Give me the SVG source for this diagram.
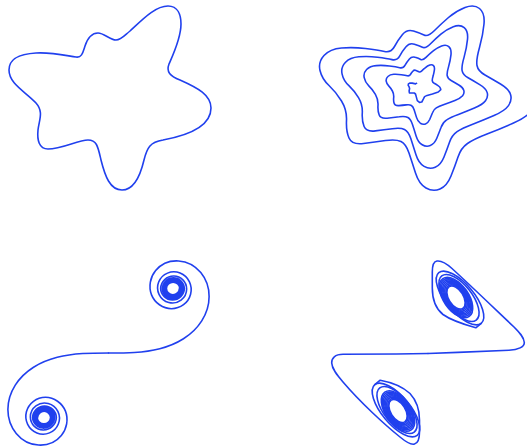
<svg xmlns="http://www.w3.org/2000/svg" xmlns:xlink="http://www.w3.org/1999/xlink" width="527" height="448" viewBox="0 0 527 448">
<style>
.c{fill:none;stroke:#2040ee;stroke-width:1.6;stroke-linejoin:round;stroke-linecap:round}
.m{fill:none;stroke:#2040ee;stroke-width:0.0124;stroke-linejoin:round;stroke-linecap:round}
</style>
<defs>
<path id="cornuHalf" class="m" d="M 0,0 C 0.0667,0 0.1333,0 0.1999,0.0042 C 0.2665,0.0084 0.3329,0.0168 0.3975,0.0334 C 0.4621,0.05 0.5248,0.0748 0.5811,0.1105 C 0.6374,0.1462 0.6871,0.193 0.7228,0.2493 C 0.7585,0.3056 0.7799,0.3716 0.7799,0.4383 C 0.7799,0.505 0.7579,0.572 0.7154,0.6234 C 0.6729,0.6748 0.6097,0.7093 0.5431,0.7135 C 0.4765,0.7177 0.408,0.6903 0.3655,0.6389 C 0.323,0.5875 0.3091,0.5129 0.3336,0.4509 C 0.3581,0.3889 0.4215,0.3434 0.4882,0.3434 C 0.5215,0.3434 0.555,0.3543 0.5816,0.3743 C 0.6082,0.3943 0.628,0.4234 0.6363,0.4557 C 0.6446,0.488 0.6413,0.5233 0.6266,0.5532 C 0.6119,0.5831 0.586,0.6074 0.555,0.6197 C 0.524,0.632 0.4882,0.632 0.4574,0.6192 C 0.4266,0.6064 0.4012,0.581 0.3889,0.55 C 0.3766,0.519 0.3778,0.4828 0.3925,0.4529 C 0.4072,0.423 0.4352,0.3998 0.4675,0.3915 C 0.4998,0.3832 0.5358,0.3901 0.5624,0.4101 C 0.589,0.4301 0.6057,0.463 0.6057,0.4963 A 0.1009 0.1009 0 0 1 0.404 0.5 A 0.0922 0.0922 0 0 1 0.5883 0.5 A 0.0853 0.0853 0 0 1 0.4178 0.5 A 0.0797 0.0797 0 0 1 0.5772 0.5 A 0.0751 0.0751 0 0 1 0.427 0.5 A 0.0713 0.0713 0 0 1 0.5695 0.5 A 0.068 0.068 0 0 1 0.4336 0.5 A 0.0651 0.0651 0 0 1 0.5637 0.5 A 0.0625 0.0625 0 0 1 0.4387 0.5 A 0.0602 0.0602 0 0 1 0.5591 0.5 A 0.0582 0.0582 0 0 1 0.4428 0.5 A 0.0563 0.0563 0 0 1 0.5554 0.5 A 0.0546 0.0546 0 0 1 0.4462 0.5 A 0.0531 0.0531 0 0 1 0.5523 0.5 A 0.0517 0.0517 0 0 1 0.449 0.5 A 0.0504 0.0504 0 0 1 0.5497 0.5"/>
</defs>
<rect width="527" height="448" fill="#ffffff"/>
<g id="star">
<path class="c" d="M 9,70 C 9,58 20,54 36,53 C 52,52 68,56 76,57 C 82,58 83,52 85,46 C 88,37 92,33 98,33 C 104,33 110,40 116,40 C 121,40 124,36 130,31 C 142,20 155,6 168,6 C 178,6 181,15 181,24 C 181,38 173,55 169,64 C 166,72 170,76 180,80 C 198,88 211,95 211,108 C 211,126 190,135 163,140 C 150,142 147,148 144,160 C 140,177 134,190 122,190 C 110,190 105,176 101,160 C 98,147 97,140 88,140 C 78,140 62,149 48,149 C 39,149 37,140 38,130 C 39,120 44,112 36,103 C 26,92 9,84 9,70 Z"/>
</g>
<g id="star-spiral">
<path class="c" d="M 536,104 L 531.5,110.5 Q 527,117 513.5,123 Q 500,129 487,134 Q 474,139 467.5,143.5 Q 461,148 458,157 Q 455,166 451,176 Q 447,186 440,189 Q 433,192 426,188 Q 419,184 415.5,173 Q 412,162 409,153 Q 406,144 401,141.5 Q 396,139 385.5,140.5 Q 375,142 363.5,143.5 Q 352,145 349,138 Q 346,131 346.5,120.5 Q 347,110 341.5,101 Q 336,92 329,85.5 Q 322,79 320,70.5 Q 318,62 324,55.5 Q 330,49 341.5,48 Q 353,47 365.5,48.5 Q 378,50 384.5,51.5 Q 391,53 394.5,46.5 Q 398,40 402.5,34.5 Q 407,29 413.5,31 Q 420,33 424,35 Q 428,37 434.5,30.5 Q 441,24 448.5,17.5 Q 456,11 465,7.5 Q 474,4 479.5,8.5 Q 485,13 484,24 Q 483,35 479.5,47.5 Q 476,60 477,65.5 Q 478,71 485,75 Q 492,79 500.5,84 Q 509,89 510.6,94.7 Q 512.2,100.4 508.5,105.6 Q 504.8,110.8 494,115.5 Q 483.1,120.2 472.7,124.2 Q 462.3,128.1 457.1,131.7 Q 451.9,135.2 449.5,142.3 Q 447.1,149.3 443.9,157.2 Q 440.7,165 435.2,167.3 Q 429.6,169.6 424.1,166.4 Q 418.6,163.2 415.9,154.5 Q 413.1,145.7 410.8,138.6 Q 408.4,131.5 404.5,129.5 Q 400.6,127.5 392.4,128.7 Q 384.2,129.8 375.3,130.9 Q 366.4,132 364.1,126.5 Q 361.8,121 362.3,112.8 Q 362.7,104.6 358.5,97.7 Q 354.2,90.7 348.9,85.7 Q 343.5,80.6 342.1,74.1 Q 340.6,67.5 345.3,62.5 Q 350,57.5 358.9,56.8 Q 367.8,56 377.5,57.2 Q 387.1,58.4 392.1,59.6 Q 397.1,60.8 399.8,55.9 Q 402.5,50.9 406,46.8 Q 409.4,42.6 414.4,44.2 Q 419.3,45.7 422.4,47.3 Q 425.4,48.8 430.3,44 Q 435.2,39.1 440.9,34.2 Q 446.5,29.3 453.3,26.7 Q 460,24.1 464.2,27.6 Q 468.3,31 467.5,39.3 Q 466.7,47.6 464.1,57.1 Q 461.4,66.5 462.1,70.6 Q 462.8,74.7 468.1,77.8 Q 473.3,80.8 479.7,84.6 Q 486,88.3 487.2,92.6 Q 488.4,96.8 485.5,100.7 Q 482.6,104.5 474.4,108 Q 466.2,111.5 458.4,114.4 Q 450.5,117.2 446.7,119.8 Q 442.8,122.3 441,127.5 Q 439.1,132.6 436.8,138.3 Q 434.4,144 430.3,145.6 Q 426.2,147.2 422.2,144.8 Q 418.1,142.3 416.1,135.9 Q 414.1,129.5 412.4,124.3 Q 410.7,119 407.9,117.5 Q 405.1,116 399.3,116.8 Q 393.4,117.5 387.1,118.2 Q 380.7,118.9 379.2,115 Q 377.6,111 378,105.2 Q 378.3,99.3 375.4,94.3 Q 372.5,89.3 368.8,85.8 Q 365.1,82.2 364.2,77.6 Q 363.2,73 366.6,69.5 Q 370,66 376.3,65.6 Q 382.6,65.1 389.4,66 Q 396.2,66.8 399.7,67.7 Q 403.2,68.5 405.1,65.1 Q 407,61.7 409.4,58.9 Q 411.8,56.1 415.2,57.3 Q 418.6,58.4 420.7,59.5 Q 422.7,60.6 426,57.4 Q 429.3,54.1 433.2,50.9 Q 437,47.6 441.6,45.9 Q 446.1,44.2 448.8,46.6 Q 451.5,49 451,54.6 Q 450.4,60.2 448.6,66.6 Q 446.7,72.9 447.2,75.7 Q 447.6,78.5 451.1,80.5 Q 454.6,82.5 458.8,85 Q 463,87.5 463.8,90.4 Q 464.6,93.2 462.6,95.8 Q 460.5,98.3 454.9,100.5 Q 449.3,102.7 444.1,104.5 Q 438.8,106.3 436.3,107.9 Q 433.7,109.5 432.5,112.7 Q 431.2,115.9 429.7,119.5 Q 428.1,123 425.5,123.9 Q 422.9,124.8 420.3,123.2 Q 417.7,121.5 416.5,117.4 Q 415.2,113.2 414.2,109.9 Q 413.1,106.5 411.4,105.5 Q 409.7,104.5 406.2,104.9 Q 402.6,105.3 398.9,105.6 Q 395.1,105.9 394.2,103.5 Q 393.3,101 393.7,97.5 Q 394,93.9 392.4,91 Q 390.7,88 388.7,85.9 Q 386.6,83.8 386.2,81.1 Q 385.8,78.4 387.9,76.5 Q 390,74.5 393.7,74.3 Q 397.4,74.1 401.4,74.7 Q 405.3,75.2 407.3,75.8 Q 409.3,76.3 410.4,74.5 Q 411.5,72.6 412.8,71.2 Q 414.1,69.7 416,70.4 Q 417.8,71.1 419,71.8 Q 420.1,72.4 421.8,70.8 Q 423.5,69.2 425.5,67.6 Q 427.5,65.9 429.8,65.1 Q 432.1,64.3 433.5,65.6 Q 434.8,66.9 434.4,69.9 Q 434,72.8 433.1,76.1 Q 432.1,79.4 432.3,80.8 Q 432.5,82.2 434.2,83.3 Q 435.9,84.3 438,85.6 Q 440,86.8 440.4,88.2 L 440.8,89.6 L 438.3,92 L 432.4,94 L 427.1,95.4 L 424.6,96.6 L 423.3,99.2 L 421.8,102 L 419.5,102.4 L 417.3,100.6 L 416.3,96.9 L 415.5,94 L 414.2,93 L 411.8,93 L 409.4,92.9 L 409.1,91 L 409.6,88.5 L 409,86.6 L 408.2,85.4 L 408.4,83.9 L 410,83 L 412.2,83.1 L 414.4,83.6 L 415.4,84 L 416,83.5 L 416.5,83.3"/>
</g>
<g id="cornu">
<use xlink:href="#cornuHalf" href="#cornuHalf" transform="translate(108.5,353) scale(129,-129)"/>
<use xlink:href="#cornuHalf" href="#cornuHalf" transform="translate(108.5,353) scale(-129,129)"/>
</g>
<g id="attractor">
<path class="c" d="M 428,353.5 C 455,352.5 495,351 509,350.3 C 518,349.8 524.5,347 524.3,342.5 C 524,337 519,332 514,327 C 495,309 470,285 452,268.5 C 446,263 441,260.5 437,261 C 433,261.5 432.3,266 432.3,272 L 432.3,288 C 432.3,300 436,309 443,314.5 C 452,321 466,325 475.8,327.8 L 481.2,323.3"/>
<path class="c" d="M 428,353.5 C 400,354 360,354.3 343,354.3 C 335,354.3 331.5,358 331.7,363 C 332,369 337,375 343,382 C 360,402 385,425 400,437 C 406,442 411,445 414.5,444 C 418.5,443 419.5,438 419.5,432 L 419.5,420 C 419.5,408 416,400 410,393.5 C 402,386 390,382 380.2,380.2 L 374.8,384.7"/>
<ellipse class="c" cx="460" cy="298" rx="33" ry="14" transform="rotate(50 460 298)"/>
<ellipse class="c" cx="459" cy="298" rx="28" ry="13" transform="rotate(52 459 298)"/>
<ellipse class="c" cx="456" cy="297.5" rx="23" ry="12.5" transform="rotate(55 456 297.5)"/>
<ellipse class="c" cx="456" cy="297.5" rx="21.5" ry="11.7" transform="rotate(55 456 297.5)"/>
<ellipse class="c" cx="456" cy="297.5" rx="20" ry="11" transform="rotate(55 456 297.5)"/>
<ellipse class="c" cx="456" cy="297.5" rx="18.5" ry="10.2" transform="rotate(56 456 297.5)"/>
<ellipse class="c" cx="456" cy="297.5" rx="17" ry="9.5" transform="rotate(56 456 297.5)"/>
<ellipse class="c" cx="456" cy="297.5" rx="15.5" ry="8.8" transform="rotate(57 456 297.5)"/>
<ellipse class="c" cx="456" cy="297.5" rx="14" ry="8" transform="rotate(58 456 297.5)"/>
<ellipse class="c" cx="456" cy="297.5" rx="12.8" ry="7.3" transform="rotate(58 456 297.5)"/>
<ellipse class="c" cx="396" cy="410" rx="33" ry="14" transform="rotate(50 396 410)"/>
<ellipse class="c" cx="397" cy="410" rx="28" ry="13" transform="rotate(52 397 410)"/>
<ellipse class="c" cx="398" cy="411" rx="23" ry="12.5" transform="rotate(55 398 411)"/>
<ellipse class="c" cx="398" cy="411" rx="21.5" ry="11.7" transform="rotate(55 398 411)"/>
<ellipse class="c" cx="398" cy="411" rx="20" ry="11" transform="rotate(55 398 411)"/>
<ellipse class="c" cx="398" cy="411" rx="18.5" ry="10.2" transform="rotate(56 398 411)"/>
<ellipse class="c" cx="398" cy="411" rx="17" ry="9.5" transform="rotate(56 398 411)"/>
<ellipse class="c" cx="398" cy="411" rx="15.5" ry="8.8" transform="rotate(57 398 411)"/>
<ellipse class="c" cx="398" cy="411" rx="14" ry="8" transform="rotate(58 398 411)"/>
<ellipse class="c" cx="398" cy="411" rx="12.8" ry="7.3" transform="rotate(58 398 411)"/>
</g>
</svg>
